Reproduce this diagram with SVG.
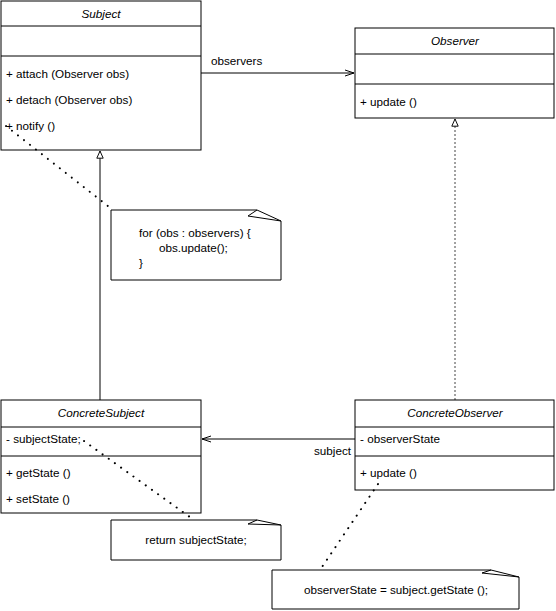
<svg xmlns="http://www.w3.org/2000/svg" width="556" height="611" viewBox="0 0 556 611">
<defs>
<style>
.box{fill:#fff;stroke:#000;stroke-width:1}
.sep{stroke:#000;stroke-width:1}
text{font-family:"Liberation Sans",Arial,sans-serif;font-size:11.7px;fill:#000}
.title{font-style:italic;text-anchor:middle}
.line{stroke:#000;stroke-width:1;fill:none}
.dash{stroke:#444;stroke-width:1;stroke-dasharray:2 2;fill:none}
.dot{stroke:#000;stroke-width:2;stroke-dasharray:0.1 7.5;stroke-linecap:round;fill:none}
.note{fill:#fff;stroke:#000;stroke-width:1}
</style>
<marker id="open" viewBox="0 0 10 10" refX="10" refY="5" markerWidth="10" markerHeight="10" orient="auto" markerUnits="userSpaceOnUse">
<path d="M1,2 L10,5 L1,8" fill="none" stroke="#000" stroke-width="1"/>
</marker>
<marker id="tri" viewBox="0 0 10 10" refX="10" refY="5" markerWidth="8" markerHeight="8" orient="auto" markerUnits="userSpaceOnUse">
<path d="M1,1 L10,5 L1,9 Z" fill="#fff" stroke="#000" stroke-width="1.2"/>
</marker>
</defs>

<g id="connectors">
<line class="line" x1="201" y1="73" x2="354" y2="73" marker-end="url(#open)"/>
<text x="211" y="65">observers</text>
<line class="line" x1="100" y1="400" x2="100" y2="151" marker-end="url(#tri)"/>
<line class="dash" x1="455" y1="400" x2="455" y2="119" marker-end="url(#tri)"/>
<line class="line" x1="355" y1="439" x2="202" y2="439" marker-end="url(#open)"/>
<text x="351" y="455" text-anchor="end">subject</text>
</g>

<g id="Subject">
<rect class="box" x="1" y="1" width="200" height="149"/>
<line class="sep" x1="1" y1="26" x2="201" y2="26"/>
<line class="sep" x1="1" y1="56" x2="201" y2="56"/>
<text class="title" x="101" y="18">Subject</text>
<text x="6" y="78">+ attach (Observer obs)</text>
<text x="6" y="104">+ detach (Observer obs)</text>
<text x="6" y="130">+ notify ()</text>
</g>

<g id="Observer">
<rect class="box" x="355" y="28" width="199" height="90"/>
<line class="sep" x1="355" y1="54" x2="554" y2="54"/>
<line class="sep" x1="355" y1="84" x2="554" y2="84"/>
<text class="title" x="455" y="45">Observer</text>
<text x="360" y="106">+ update ()</text>
</g>

<g id="ConcreteSubject">
<rect class="box" x="1" y="400" width="200" height="113"/>
<line class="sep" x1="1" y1="427" x2="201" y2="427"/>
<line class="sep" x1="1" y1="456" x2="201" y2="456"/>
<text class="title" x="101" y="417">ConcreteSubject</text>
<text x="6" y="443">- subjectState;</text>
<text x="6" y="477">+ getState ()</text>
<text x="6" y="503">+ setState ()</text>
</g>

<g id="ConcreteObserver">
<rect class="box" x="355" y="400" width="199" height="90"/>
<line class="sep" x1="355" y1="427" x2="554" y2="427"/>
<line class="sep" x1="355" y1="456" x2="554" y2="456"/>
<text class="title" x="455" y="417">ConcreteObserver</text>
<text x="360" y="443">- observerState</text>
<text x="360" y="477">+ update ()</text>
</g>

<g id="note1">
<path class="note" d="M111,210 L257,210 L281,221 L281,280 L111,280 Z"/>
<path class="line" d="M257,210 L248,216 L281,221"/>
<text x="139" y="237">for (obs : observers) {</text>
<text x="159" y="252">obs.update();</text>
<text x="139" y="267">}</text>
</g>

<g id="note2">
<path class="note" d="M111,520 L257,520 L281,525 L281,560 L111,560 Z"/>
<path class="line" d="M257,520 L248,524 L281,525"/>
<text x="196" y="544" text-anchor="middle">return subjectState;</text>
</g>

<g id="note3">
<path class="note" d="M272,570 L491,570 L519,577 L519,609 L272,609 Z"/>
<path class="line" d="M491,570 L482,573 L519,577"/>
<text x="396" y="594" text-anchor="middle">observerState = subject.getState ();</text>
</g>

<g id="note-links">
<line class="dot" x1="6" y1="126" x2="113" y2="210"/>
<line class="dot" x1="84" y1="441" x2="194" y2="520"/>
<line class="dot" x1="378" y1="484" x2="320" y2="570"/>
</g>
</svg>
